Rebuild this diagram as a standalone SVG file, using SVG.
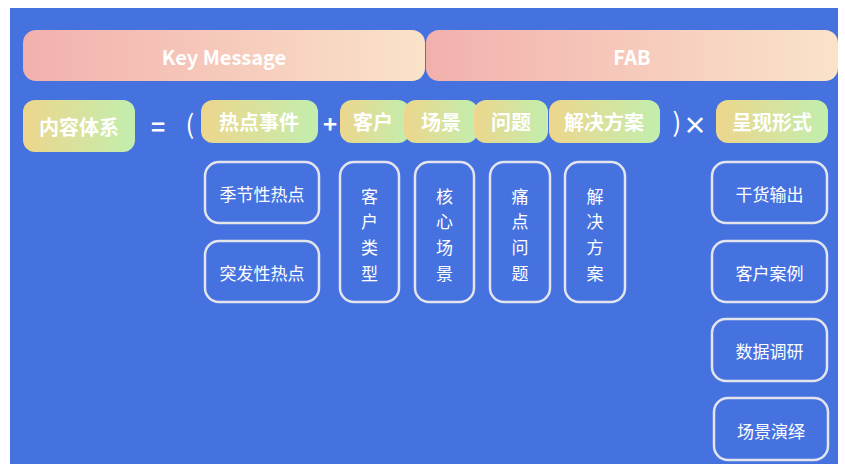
<svg xmlns="http://www.w3.org/2000/svg" width="845" height="464" viewBox="0 0 845 464">
<defs>
<linearGradient id="gHead" x1="0" y1="0" x2="1" y2="0">
<stop offset="0" stop-color="#F2B0AD"/>
<stop offset="1" stop-color="#FAE3C9"/>
</linearGradient>
<linearGradient id="gPill" x1="0" y1="0" x2="1" y2="0">
<stop offset="0" stop-color="#EDD68C"/>
<stop offset="1" stop-color="#C2EEAE"/>
</linearGradient>
<style>
text{font-family:"Noto Sans CJK SC","Noto Sans",sans-serif;fill:#FFFFFF;text-anchor:middle;dominant-baseline:central}
.head{font-size:20px;font-weight:bold}
.pill{fill:url(#gPill)}
.pt{font-size:20px;font-weight:bold}
.op{font-size:24px;font-weight:bold}
.box{fill:none;stroke:#E2E4EE;stroke-width:2.5}
.bt{font-size:17px}
</style>
</defs>
<rect x="0" y="0" width="845" height="464" fill="#FFFFFF"/>
<rect x="10" y="8" width="828" height="456" fill="#4572DF"/>

<g id="key-message"><rect x="23" y="30" width="402" height="51" rx="13" fill="url(#gHead)"/><text class="head" x="224" y="56">Key Message</text></g>
<g id="fab"><rect x="426" y="30" width="412" height="51" rx="13" fill="url(#gHead)"/><text class="head" x="632" y="56">FAB</text></g>

<g id="content-system"><rect class="pill" x="23" y="100" width="112" height="52" rx="12"/><text class="pt" x="79" y="126">内容体系</text></g>
<g id="ops">
<text class="op" x="158" y="125">=</text>
<text class="op" x="190" y="122" style="font-weight:normal;font-size:26px">(</text>
<text class="op" x="330" y="122">+</text>
<text class="op" x="677" y="120" style="font-weight:normal;font-size:26px">)</text>
<text class="op" x="695" y="123">×</text>
</g>
<g id="hot-events"><rect class="pill" x="201" y="100" width="117" height="43" rx="12"/><text class="pt" x="259" y="121">热点事件</text></g>
<g id="customer"><rect class="pill" x="340" y="100" width="70" height="43" rx="12"/><text class="pt" x="373" y="121">客户</text></g>
<g id="scene"><rect class="pill" x="404" y="100" width="74" height="43" rx="12"/><text class="pt" x="441" y="121">场景</text></g>
<g id="problem"><rect class="pill" x="474" y="100" width="74" height="43" rx="12"/><text class="pt" x="511" y="121">问题</text></g>
<g id="solution"><rect class="pill" x="549" y="100" width="111" height="43" rx="12"/><text class="pt" x="604" y="121">解决方案</text></g>
<g id="presentation"><rect class="pill" x="716" y="100" width="112" height="43" rx="12"/><text class="pt" x="772" y="121">呈现形式</text></g>

<g id="seasonal"><rect class="box" x="205" y="162" width="114" height="61" rx="14"/><text class="bt" x="262" y="193">季节性热点</text></g>
<g id="sudden"><rect class="box" x="205" y="241" width="114" height="61" rx="14"/><text class="bt" x="262" y="272">突发性热点</text></g>
<g id="customer-type"><rect class="box" x="340" y="162" width="59" height="140" rx="14"/><text class="bt" x="369.5" y="195">客</text><text class="bt" x="369.5" y="220">户</text><text class="bt" x="369.5" y="246">类</text><text class="bt" x="369.5" y="272">型</text></g>
<g id="core-scene"><rect class="box" x="415" y="162" width="59" height="140" rx="14"/><text class="bt" x="444.5" y="195">核</text><text class="bt" x="444.5" y="220">心</text><text class="bt" x="444.5" y="246">场</text><text class="bt" x="444.5" y="272">景</text></g>
<g id="pain-point"><rect class="box" x="490" y="162" width="60" height="140" rx="14"/><text class="bt" x="520" y="195">痛</text><text class="bt" x="520" y="220">点</text><text class="bt" x="520" y="246">问</text><text class="bt" x="520" y="272">题</text></g>
<g id="solution-box"><rect class="box" x="565" y="162" width="60" height="140" rx="14"/><text class="bt" x="595" y="195">解</text><text class="bt" x="595" y="220">决</text><text class="bt" x="595" y="246">方</text><text class="bt" x="595" y="272">案</text></g>

<g id="dry-goods"><rect class="box" x="712" y="162" width="115" height="61" rx="14"/><text class="bt" x="769.5" y="193">干货输出</text></g>
<g id="case"><rect class="box" x="712" y="241" width="115" height="61" rx="14"/><text class="bt" x="769.5" y="272">客户案例</text></g>
<g id="data"><rect class="box" x="712" y="319" width="115" height="62" rx="14"/><text class="bt" x="769.5" y="350">数据调研</text></g>
<g id="scene-demo"><rect class="box" x="714" y="398" width="114" height="62" rx="14"/><text class="bt" x="771" y="430">场景演绎</text></g>
</svg>
